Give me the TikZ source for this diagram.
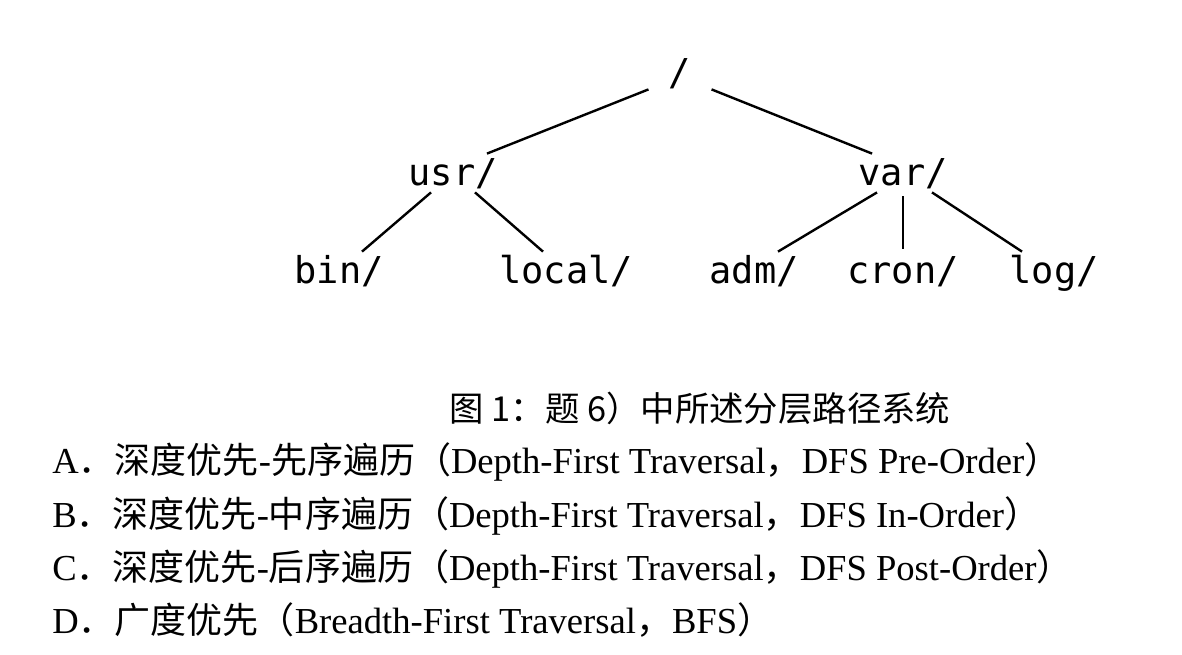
\documentclass[tikz,border=0pt]{standalone}
\usepackage{fontspec}
\setmainfont{Liberation Serif}
\newfontfamily\cjkfont{Noto Sans CJK SC}
\newfontfamily\dirfont{DejaVu Sans Mono}
\newcommand{\zh}[1]{{\cjkfont\fontsize{18}{20}\selectfont #1}}

\begin{document}
\begin{tikzpicture}[
			x=0.5pt, y=-0.5pt,
			dir/.style={font=\dirfont\fontsize{18.5}{20}\selectfont, inner xsep=0pt, inner ysep=1.5pt,
				text height=14pt, text depth=2pt, anchor=base},
			branch/.style={line width=1.2pt},
			option/.style={font=\fontsize{18.3}{20}\selectfont, inner sep=0pt, anchor=base west}
			]

				\useasboundingbox (0,0) rectangle (1182,654);

				% directory tree
				\node[dir, inner xsep=10pt, inner ysep=0pt] (root) at (680,85) {/};
				\node[dir] (usr) at (453,185) {usr/};
				\node[dir] (var) at (903,185) {var/};
				\node[dir] (bin) at (339,283) {bin/};
				\node[dir] (local) at (566,283) {local/};
				\node[dir] (adm) at (754,283) {adm/};
				\node[dir] (cron) at (903,283) {cron/};
				\node[dir] (log) at (1054,283) {log/};

				\draw[branch] (root.south west) -- ([xshift=-5.5pt]usr.north east);
				\draw[branch] (root.south east) -- ([xshift=7pt]var.north west);
				\draw[branch] ([xshift=-11pt]usr.south) -- ([xshift=11.5pt]bin.north);
				\draw[branch] ([xshift=11pt]usr.south) -- ([xshift=-11.5pt]local.north);
				\draw[branch] ([xshift=-13pt]var.south) -- ([xshift=12pt]adm.north);
				\draw[branch, shorten <=2pt, shorten >=1.5pt] (var.south) -- (cron.north);
				\draw[branch] ([xshift=14.5pt]var.south) -- ([xshift=-16pt]log.north);

				% caption and choices
				\node[option, font=\cjkfont\fontsize{17.2}{20}\selectfont] (caption) at (449,421) {图 1：题 6）中所述分层路径系统};
				\node[option] (optA) at (52,473) {A\zh{．深度优先}-\zh{先序遍历（}Depth-First Traversal\zh{，}DFS Pre-Order\zh{）}};
				\node[option] (optB) at (52,527) {B\zh{．深度优先}-\zh{中序遍历（}Depth-First Traversal\zh{，}DFS In-Order\zh{）}};
				\node[option] (optC) at (52,580) {C\zh{．深度优先}-\zh{后序遍历（}Depth-First Traversal\zh{，}DFS Post-Order\zh{）}};
				\node[option] (optD) at (52,633) {D\zh{．广度优先（}Breadth-First Traversal\zh{，}BFS\zh{）}};

			\end{tikzpicture}
\end{document}
